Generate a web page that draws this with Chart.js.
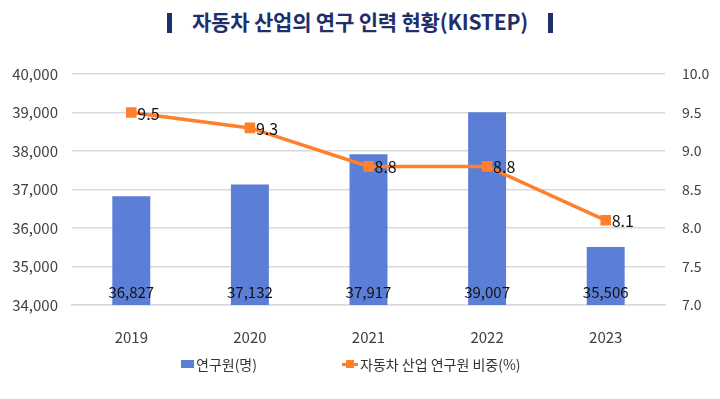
<!DOCTYPE html>
<html>
<head>
<meta charset="utf-8">
<script src="https://cdn.jsdelivr.net/npm/chart.js@4"></script>
<style>
  html, body { margin: 0; padding: 0; background: #fff; }
  body { width: 720px; height: 399px; position: relative; overflow: hidden;
         font-family: "Noto Sans CJK KR", "Noto Sans", sans-serif; }
  #title { position: absolute; top: 6px; left: 0; width: 720px; text-align: center;
           font-size: 21px; font-weight: bold; color: #1f2f6b; letter-spacing: -0.2px; }
  #title .bar { display: inline-block; width: 5px; height: 20px; background: #1f2f6b;
                vertical-align: -3px; margin: 0 20px; }
  #chartBox { position: absolute; left: 0; top: 0; width: 720px; height: 399px; }
  .legend { position: absolute; top: 354px; font-size: 14px; color: #333; display: flex; align-items: center; }
  .legend .sw { display: inline-block; width: 13px; height: 8px; background: #5b7fd6; margin-right: 2px; }
  .legend .ln { position: relative; display: inline-block; width: 16px; height: 3px; background: #ff7f2a; margin-right: 2px; }
  .legend .ln::after { content: ""; position: absolute; left: 4px; top: -3px; width: 8px; height: 8px; background: #ff7f2a; }
</style>
</head>
<body>
<div id="title"><span class="bar"></span>자동차 산업의 연구 인력 현황(KISTEP)<span class="bar"></span></div>
<div id="chartBox"><canvas id="chart" width="720" height="399"></canvas></div>
<div class="legend" style="left:181px;"><span class="sw"></span>연구원(명)</div>
<div class="legend" style="left:342px;"><span class="ln"></span>자동차 산업 연구원 비중(%)</div>
<script>
// data
const years = ['2019', '2020', '2021', '2022', '2023'];
const researchers = [36827, 37132, 37917, 39007, 35506];
const sharePct = [9.5, 9.3, 8.8, 8.8, 8.1];

const FONT = '"Noto Sans CJK KR", "Noto Sans", sans-serif';

// value labels (no datalabels plugin available offline)
const valueLabels = {
    id: 'valueLabels',
    afterDatasetsDraw(chart) {
        const ctx = chart.ctx;
        ctx.save();
        ctx.fillStyle = '#111';
        ctx.font = '15px ' + FONT;
        ctx.textBaseline = 'middle';

        // bar labels near the base, inside the bar
        const bars = chart.getDatasetMeta(0).data;
        ctx.textAlign = 'center';
        bars.forEach((bar, i) => {
            ctx.fillText(researchers[i].toLocaleString('en-US'), bar.x, chart.chartArea.bottom - 13);
        });

        // line labels to the right of each point
        const pts = chart.getDatasetMeta(1).data;
        ctx.font = '16px ' + FONT;
        ctx.textAlign = 'left';
        pts.forEach((pt, i) => {
            ctx.fillText(sharePct[i].toFixed(1), pt.x + 6, pt.y + 1);
        });
        ctx.restore();
    }
};

new Chart(document.getElementById('chart'), {
    data: {
        labels: years,
        datasets: [
            {
                type: 'bar',
                label: '연구원(명)',
                data: researchers,
                yAxisID: 'y',
                backgroundColor: '#5b7fd6',
                categoryPercentage: 1,
                barPercentage: 0.32,
                order: 1
            },
            {
                type: 'line',
                label: '자동차 산업 연구원 비중(%)',
                data: sharePct,
                yAxisID: 'y2',
                borderColor: '#ff7f2a',
                backgroundColor: '#ff7f2a',
                borderWidth: 3.5,
                pointStyle: 'rect',
                pointRadius: 5,
                pointHoverRadius: 5,
                tension: 0,
                order: 0
            }
        ]
    },
    options: {
        responsive: false,
        animation: false,
        layout: { padding: { top: 74, left: 0, right: 0, bottom: 0 } },
        plugins: {
            legend: { display: false },
            tooltip: { enabled: false }
        },
        scales: {
            x: {
                grid: { display: false },
                border: { color: '#d9d9d9', width: 1.5 },
                ticks: { color: '#404040', font: { size: 15, family: FONT }, padding: 15 },
                afterFit(axis) { axis.height = 94; }
            },
            y: {
                position: 'left',
                min: 34000,
                max: 40000,
                ticks: {
                    stepSize: 1000,
                    color: '#404040',
                    font: { size: 15, family: FONT },
                    padding: 14,
                    callback: v => v.toLocaleString('en-US')
                },
                grid: { color: '#d9d9d9', lineWidth: 1.5, drawTicks: false },
                border: { display: false },
                afterFit(axis) { axis.width = 72; }
            },
            y2: {
                position: 'right',
                min: 7,
                max: 10,
                ticks: {
                    stepSize: 0.5,
                    color: '#404040',
                    font: { size: 14, family: FONT },
                    padding: 17,
                    callback: v => v.toFixed(1)
                },
                grid: { display: false, drawTicks: false },
                border: { display: false },
                afterFit(axis) { axis.width = 55; }
            }
        }
    },
    plugins: [valueLabels]
});
</script>
</body>
</html>
